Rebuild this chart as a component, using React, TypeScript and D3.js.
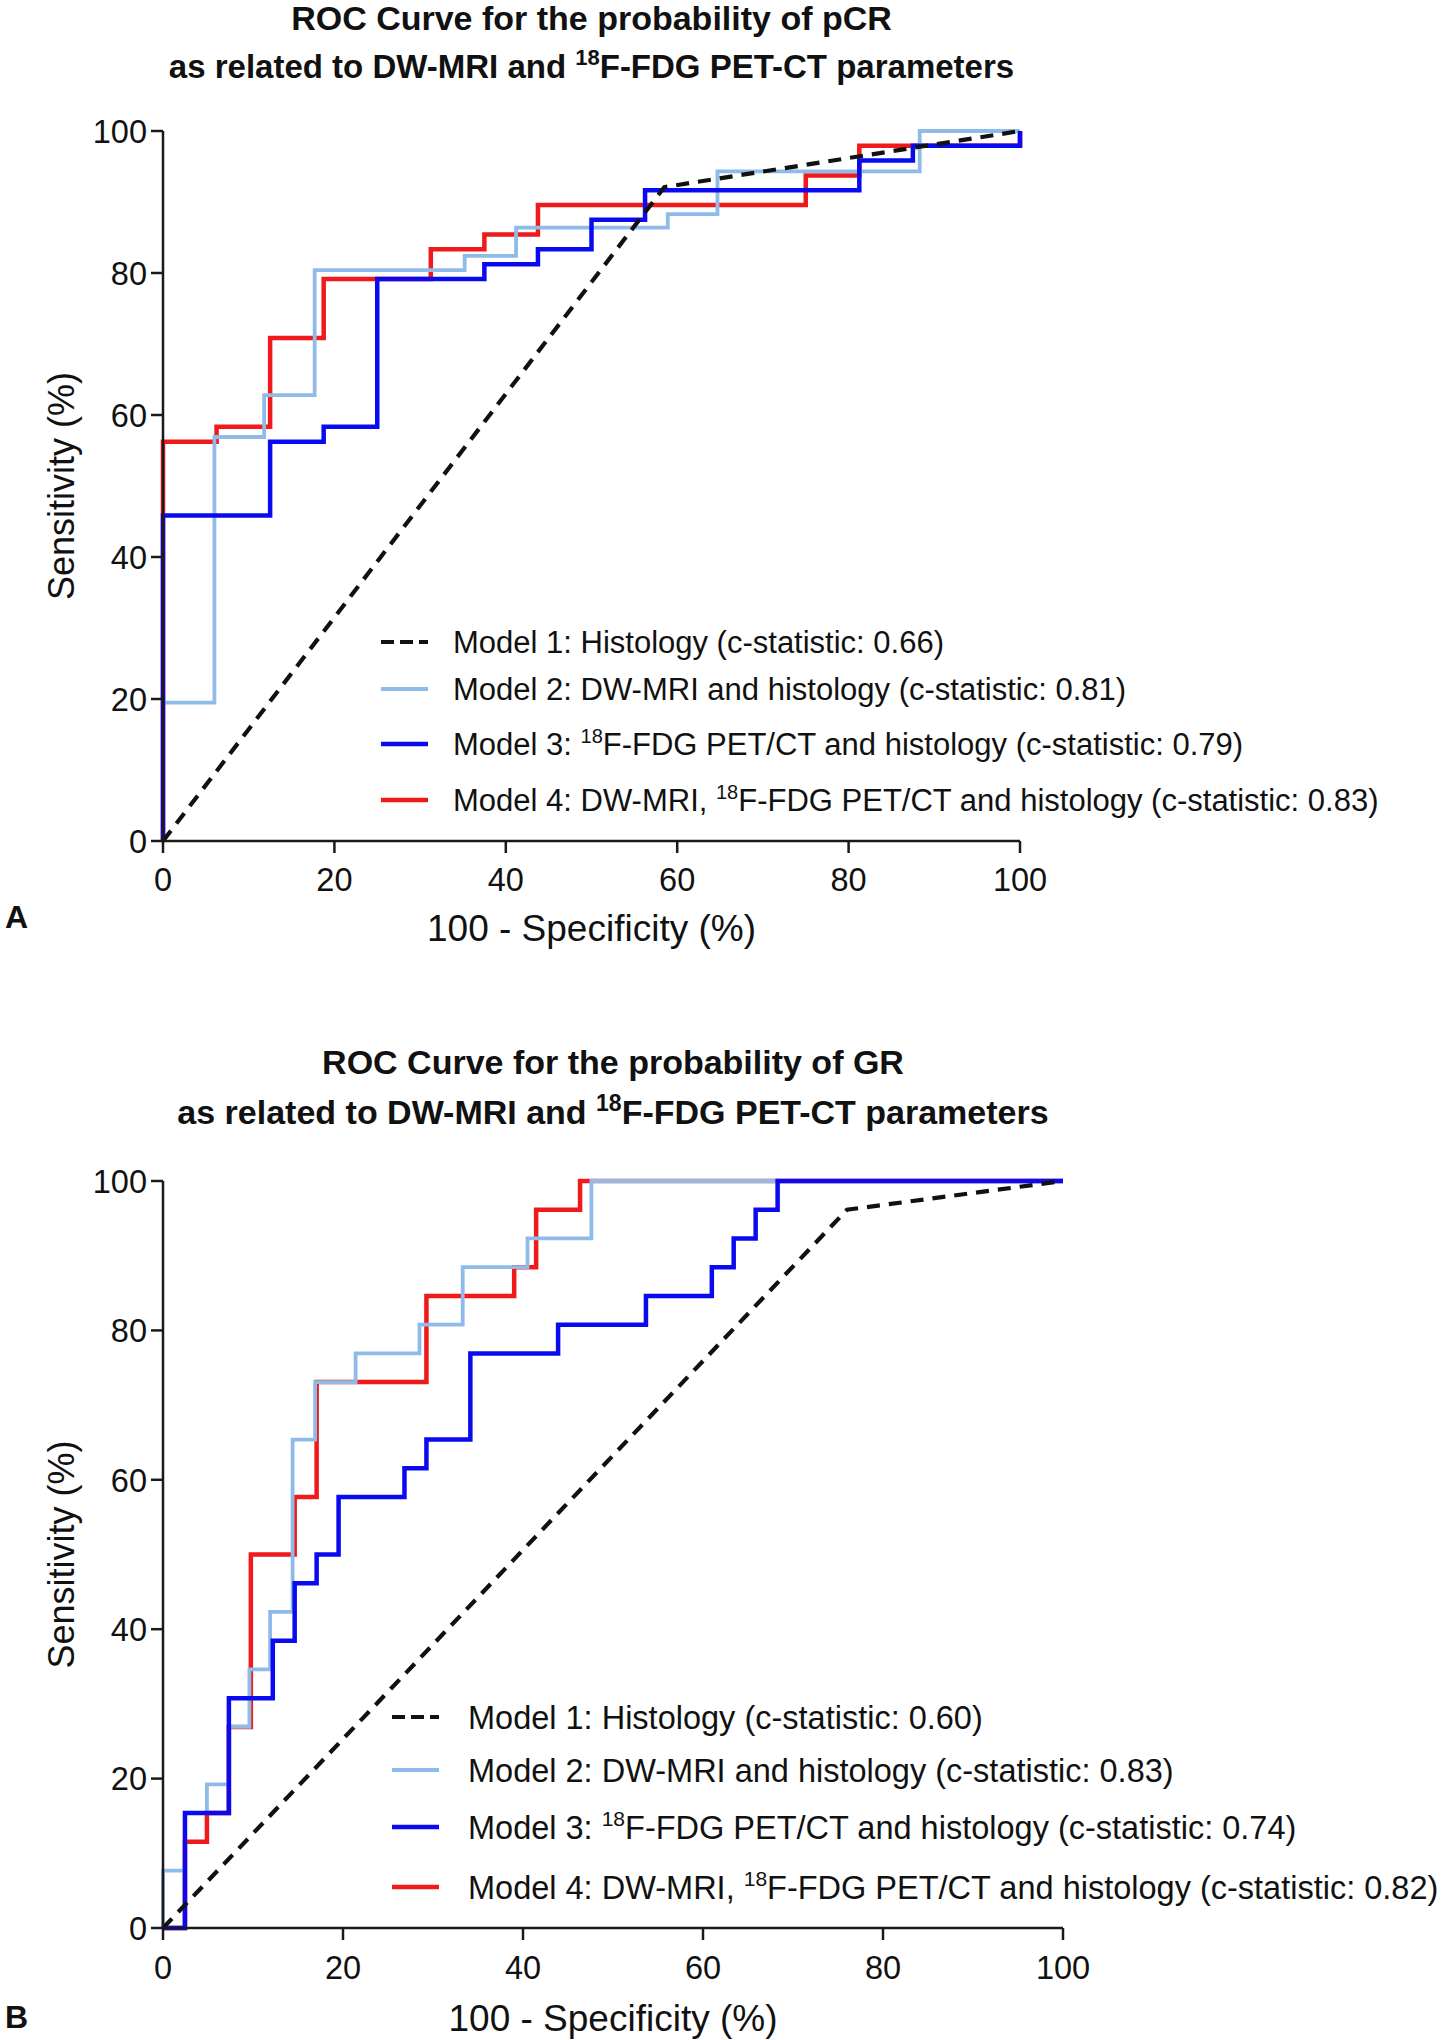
import React from "react";
import * as d3 from "d3";

// ---------- Data ----------
const xTicks = [0, 20, 40, 60, 80, 100];
const yTicks = [0, 20, 40, 60, 80, 100];

// Panel A (pCR)
const aM1x = [0, 58.5, 100];
const aM1y = [0, 92.1, 100];
const aM2x = [0, 0, 6.0, 6.0, 11.8, 11.8, 17.7, 17.7, 35.2, 35.2, 41.2, 41.2, 58.9, 58.9, 64.7, 64.7, 88.3, 88.3, 100];
const aM2y = [0, 19.5, 19.5, 56.9, 56.9, 62.8, 62.8, 80.4, 80.4, 82.4, 82.4, 86.4, 86.4, 88.3, 88.3, 94.3, 94.3, 100, 100];
const aM3x = [0, 0, 12.5, 12.5, 18.75, 18.75, 25, 25, 37.5, 37.5, 43.75, 43.75, 50, 50, 56.25, 56.25, 81.25, 81.25, 87.5, 87.5, 100, 100];
const aM3y = [0, 45.83, 45.83, 56.25, 56.25, 58.33, 58.33, 79.17, 79.17, 81.25, 81.25, 83.33, 83.33, 87.5, 87.5, 91.67, 91.67, 95.83, 95.83, 97.92, 97.92, 100];
const aM4x = [0, 0, 6.25, 6.25, 12.5, 12.5, 18.75, 18.75, 31.25, 31.25, 37.5, 37.5, 43.75, 43.75, 75, 75, 81.25, 81.25, 100, 100];
const aM4y = [0, 56.25, 56.25, 58.33, 58.33, 70.83, 70.83, 79.17, 79.17, 83.33, 83.33, 85.42, 85.42, 89.58, 89.58, 93.75, 93.75, 97.92, 97.92, 100];
const aStats = ["0.66", "0.81", "0.79", "0.83"];

// Panel B (GR)
const bM1x = [0, 76, 100];
const bM1y = [0, 96.15, 100];
const bM2x = [0, 0, 2.44, 2.44, 4.88, 4.88, 7.32, 7.32, 9.6, 9.6, 11.9, 11.9, 14.4, 14.4, 16.9, 16.9, 21.4, 21.4, 28.5, 28.5, 33.3, 33.3, 40.5, 40.5, 47.6, 47.6, 100];
const bM2y = [0, 7.69, 7.69, 15.38, 15.38, 19.23, 19.23, 26.92, 26.92, 34.62, 34.62, 42.31, 42.31, 65.38, 65.38, 73.08, 73.08, 76.92, 76.92, 80.77, 80.77, 88.46, 88.46, 92.31, 92.31, 100, 100];
const bM3x = [0, 2.44, 2.44, 7.32, 7.32, 12.2, 12.2, 14.63, 14.63, 17.07, 17.07, 19.51, 19.51, 26.83, 26.83, 29.27, 29.27, 34.15, 34.15, 43.9, 43.9, 53.66, 53.66, 60.98, 60.98, 63.41, 63.41, 65.85, 65.85, 68.29, 68.29, 100];
const bM3y = [0, 0, 15.38, 15.38, 30.77, 30.77, 38.46, 38.46, 46.15, 46.15, 50, 50, 57.69, 57.69, 61.54, 61.54, 65.38, 65.38, 76.92, 76.92, 80.77, 80.77, 84.62, 84.62, 88.46, 88.46, 92.31, 92.31, 96.15, 96.15, 100, 100];
const bM4x = [0, 2.44, 2.44, 4.88, 4.88, 7.32, 7.32, 9.76, 9.76, 14.63, 14.63, 17.07, 17.07, 29.27, 29.27, 39.02, 39.02, 41.46, 41.46, 46.34, 46.34, 100];
const bM4y = [0, 0, 11.54, 11.54, 15.38, 15.38, 26.92, 26.92, 50, 50, 57.69, 57.69, 73.08, 73.08, 84.62, 84.62, 88.46, 88.46, 96.15, 96.15, 100, 100];
const bStats = ["0.60", "0.83", "0.74", "0.82"];

const COLORS = { m1: "#111111", m2: "#8fbbe8", m3: "#0a0af0", m4: "#f01a1a" };
const FONT = "'Liberation Sans', Arial, Helvetica, sans-serif";

type PanelProps = {
  letter: string;
  titleWord: string;
  x0: number; x1: number; y0: number; y1: number;
  titleY1: number; titleY2: number; titleSize1: number; titleSize2: number;
  tickLabelY: number; xTitleY: number; letterY: number;
  legendX: number; legendTextX: number; legendYs: number[]; legendSize: number;
  series: { x: number[]; y: number[] }[];
  stats: string[];
};

function Panel(p: PanelProps) {
  const xs = d3.scaleLinear().domain([0, 100]).range([p.x0, p.x1]);
  const ys = d3.scaleLinear().domain([0, 100]).range([p.y0, p.y1]);
  const mk = (xa: number[], ya: number[]) =>
    d3.line<number>().x((_, i) => xs(xa[i])).y((_, i) => ys(ya[i]))(xa) || "";
  const [s1, s2, s3, s4] = p.series;
  const cx = (p.x0 + p.x1) / 2;
  const cy = (p.y0 + p.y1) / 2;
  const legendColors = [COLORS.m1, COLORS.m2, COLORS.m3, COLORS.m4];
  const axisColor = "#1a1a1a";
  const supSize = Math.round(p.legendSize * 0.66);
  const supDy = Math.round(p.legendSize * 0.4);

  const legendLabel = (i: number) => {
    const stat = p.stats[i];
    if (i === 0) return <>Model 1: Histology (c-statistic: {stat})</>;
    if (i === 1) return <>Model 2: DW-MRI and histology (c-statistic: {stat})</>;
    if (i === 2)
      return (
        <>
          Model 3: <tspan fontSize={supSize} dy={-supDy}>18</tspan>
          <tspan dy={supDy}>F-FDG PET/CT and histology (c-statistic: {stat})</tspan>
        </>
      );
    return (
      <>
        Model 4: DW-MRI, <tspan fontSize={supSize} dy={-supDy}>18</tspan>
        <tspan dy={supDy}>F-FDG PET/CT and histology (c-statistic: {stat})</tspan>
      </>
    );
  };

  return (
    <g fontFamily={FONT}>
      {/* Title */}
      <text x={cx} y={p.titleY1} textAnchor="middle" fontWeight="bold" fontSize={p.titleSize1} fill="#111">
        ROC Curve for the probability of {p.titleWord}
      </text>
      <text x={cx} y={p.titleY2} textAnchor="middle" fontWeight="bold" fontSize={p.titleSize2} fill="#111">
        as related to DW-MRI and <tspan fontSize={Math.round(p.titleSize2 * 0.68)} dy={-13}>18</tspan>
        <tspan dy={13}>F-FDG PET-CT parameters</tspan>
      </text>

      {/* Curves */}
      <path d={mk(s4.x, s4.y)} fill="none" stroke={COLORS.m4} strokeWidth={4.5} />
      <path d={mk(s2.x, s2.y)} fill="none" stroke={COLORS.m2} strokeWidth={3.8} />
      <path d={mk(s3.x, s3.y)} fill="none" stroke={COLORS.m3} strokeWidth={4.5} />
      <path d={mk(s1.x, s1.y)} fill="none" stroke={COLORS.m1} strokeWidth={4.2} strokeDasharray="13 9" />

      {/* Axes */}
      <line x1={xs(0)} x2={xs(100)} y1={ys(0)} y2={ys(0)} stroke={axisColor} strokeWidth={2.5} />
      <line x1={xs(0)} x2={xs(0)} y1={ys(0) + 1.25} y2={ys(100)} stroke={axisColor} strokeWidth={2.5} />
      {xTicks.map((t) => (
        <g key={"xt" + t}>
          <line x1={xs(t)} x2={xs(t)} y1={ys(0)} y2={ys(0) + 12} stroke={axisColor} strokeWidth={2.5} />
          <text x={xs(t)} y={p.tickLabelY} textAnchor="middle" fontSize={32.5} fill="#111">{t}</text>
        </g>
      ))}
      {yTicks.map((t) => (
        <g key={"yt" + t}>
          <line x1={xs(0) - 12} x2={xs(0)} y1={ys(t)} y2={ys(t)} stroke={axisColor} strokeWidth={2.5} />
          <text x={xs(0) - 16} y={ys(t)} dy="0.36em" textAnchor="end" fontSize={32.5} fill="#111">{t}</text>
        </g>
      ))}

      {/* Axis titles */}
      <text x={cx} y={p.xTitleY} textAnchor="middle" fontSize={37} fill="#111">100 - Specificity (%)</text>
      <text transform={`translate(74,${cy}) rotate(-90)`} textAnchor="middle" fontSize={36} fill="#111">
        Sensitivity (%)
      </text>

      {/* Panel letter */}
      <text x={5} y={p.letterY} fontWeight="bold" fontSize={32} fill="#111">{p.letter}</text>

      {/* Legend */}
      {p.legendYs.map((ly, i) => (
        <g key={"lg" + i}>
          <line
            x1={p.legendX}
            x2={p.legendX + 47}
            y1={ly}
            y2={ly}
            stroke={legendColors[i]}
            strokeWidth={i === 0 ? 4.2 : i === 1 ? 3.8 : 4.5}
            strokeDasharray={i === 0 ? "13 6" : undefined}
          />
          <text x={p.legendTextX} y={ly} dy="0.36em" fontSize={p.legendSize} fill="#111">
            {legendLabel(i)}
          </text>
        </g>
      ))}
    </g>
  );
}

export default function App() {
  return (
    <svg
      width={1450}
      height={2040}
      style={{ position: "absolute", left: 0, top: 0, background: "#fff" }}
    >
      <rect x={0} y={0} width={1450} height={2040} fill="#fff" />
      <Panel
        letter="A"
        titleWord="pCR"
        x0={163} x1={1020} y0={841} y1={131}
        titleY1={30} titleY2={78} titleSize1={34} titleSize2={33}
        tickLabelY={891} xTitleY={941} letterY={928}
        legendX={381} legendTextX={453}
        legendYs={[642, 689, 744, 800]} legendSize={31}
        series={[
          { x: aM1x, y: aM1y },
          { x: aM2x, y: aM2y },
          { x: aM3x, y: aM3y },
          { x: aM4x, y: aM4y },
        ]}
        stats={aStats}
      />
      <Panel
        letter="B"
        titleWord="GR"
        x0={163} x1={1063} y0={1928} y1={1181}
        titleY1={1074} titleY2={1124} titleSize1={34} titleSize2={34}
        tickLabelY={1979} xTitleY={2031} letterY={2028}
        legendX={392} legendTextX={468}
        legendYs={[1717, 1770, 1827, 1887]} legendSize={32.5}
        series={[
          { x: bM1x, y: bM1y },
          { x: bM2x, y: bM2y },
          { x: bM3x, y: bM3y },
          { x: bM4x, y: bM4y },
        ]}
        stats={bStats}
      />
    </svg>
  );
}
